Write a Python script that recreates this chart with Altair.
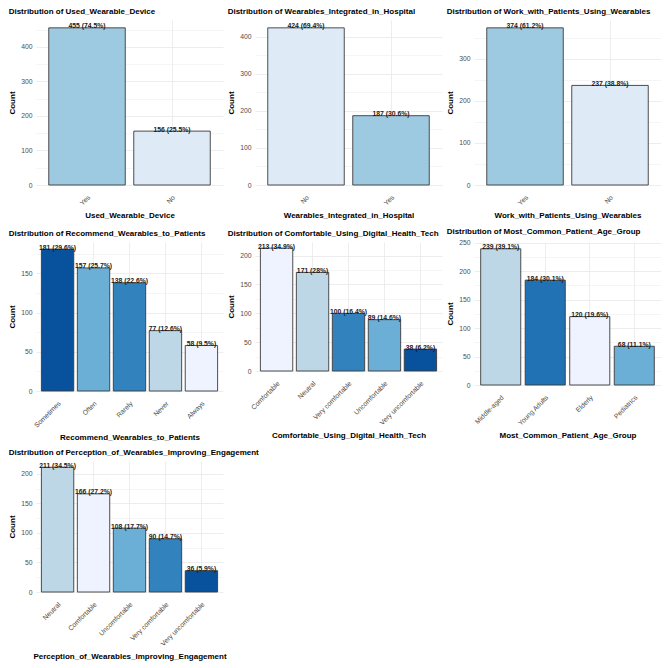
import altair as alt
import pandas as pd

TOTAL = 611

var_names = [
    "Used_Wearable_Device",
    "Wearables_Integrated_in_Hospital",
    "Work_with_Patients_Using_Wearables",
    "Recommend_Wearables_to_Patients",
    "Comfortable_Using_Digital_Health_Tech",
    "Most_Common_Patient_Age_Group",
    "Perception_of_Wearables_Improving_Engagement",
]

cat1 = ["Yes", "No"]
cnt1 = [455, 156]
cat2 = ["No", "Yes"]
cnt2 = [424, 187]
cat3 = ["Yes", "No"]
cnt3 = [374, 237]
cat4 = ["Sometimes", "Often", "Rarely", "Never", "Always"]
cnt4 = [181, 157, 138, 77, 58]
cat5 = ["Comfortable", "Neutral", "Very comfortable", "Uncomfortable", "Very uncomfortable"]
cnt5 = [213, 171, 100, 89, 38]
cat6 = ["Middle-aged", "Young Adults", "Elderly", "Pediatrics"]
cnt6 = [239, 184, 120, 68]
cat7 = ["Neutral", "Comfortable", "Uncomfortable", "Very comfortable", "Very uncomfortable"]
cnt7 = [211, 166, 108, 90, 36]

major_steps = [100, 100, 100, 50, 50, 50, 50]

# ColorBrewer "Blues" palettes (assigned to levels in alphabetical order)
BLUES = {
    2: ["#DEEBF7", "#9ECAE1"],
    4: ["#EFF3FF", "#BDD7E7", "#6BAED6", "#2171B5"],
    5: ["#EFF3FF", "#BDD7E7", "#6BAED6", "#3182BD", "#08519C"],
}

FONT = "Liberation Sans"
PW = 187
GRID = "#EBEBEB"


def fmt_label(c):
    pct = round(c * 100 / TOTAL, 1)
    return f"{c} ({pct:g}%)"


def panel(var, cats, cnts, height, major):
    df = pd.DataFrame({"cat": cats, "n": cnts, "label": [fmt_label(c) for c in cnts]})
    ymax = max(cnts) * 1.05
    minor = major // 2
    vals = [minor * i for i in range(int(ymax // minor) + 1)]
    x = alt.X(
        "cat:N",
        sort=cats,
        title=var,
        scale=alt.Scale(paddingInner=0.1, paddingOuter=0.15),
        axis=alt.Axis(
            labelAngle=315,
            labelAlign="right",
            labelBaseline="top",
            labelPadding=9,
            titlePadding=5,
            grid=True,
            gridColor=GRID,
            gridWidth=0.9,
            bandPosition=0.5,
        ),
    )
    y = alt.Y(
        "n:Q",
        title="Count",
        scale=alt.Scale(domain=[0, ymax], nice=False, zero=True),
        axis=alt.Axis(
            values=vals,
            labelExpr=f"datum.value % {major} === 0 ? datum.label : ''",
            labelPadding=4,
            titlePadding=4,
            grid=True,
            gridColor=GRID,
            gridWidth={"condition": {"test": f"datum.value % {major} === 0", "value": 0.9}, "value": 0.5},
        ),
    )
    base = alt.Chart(df).encode(x=x, y=y)
    bars = base.mark_bar(stroke="#3a3a3a", strokeWidth=0.9).encode(
        color=alt.Color(
            "cat:N",
            scale=alt.Scale(domain=sorted(cats), range=BLUES[len(cats)]),
            legend=None,
        )
    )
    text = base.mark_text(
        baseline="bottom", dy=1.5, fontSize=6.8, fontWeight="bold", font=FONT, color="#1a1a1a"
    ).encode(text="label:N")
    return alt.layer(bars, text).properties(
        width=PW,
        height=height,
        title=alt.TitleParams(
            "Distribution of " + var,
            anchor="start",
            fontSize=8,
            fontWeight="bold",
            font=FONT,
            color="#000000",
            offset=4,
        ),
    )


p1 = panel(var_names[0], cat1, cnt1, 165, major_steps[0])
p2 = panel(var_names[1], cat2, cnt2, 165, major_steps[1])
p3 = panel(var_names[2], cat3, cnt3, 165, major_steps[2])
p4 = panel(var_names[3], cat4, cnt4, 149, major_steps[3])
p5 = panel(var_names[4], cat5, cnt5, 129, major_steps[4])
p6 = panel(var_names[5], cat6, cnt6, 143, major_steps[5])
p7 = panel(var_names[6], cat7, cnt7, 131, major_steps[6])

row1 = alt.hconcat(p1, p2, p3, spacing=32, bounds="flush").resolve_scale(color="independent")
row2 = alt.hconcat(p4, p5, p6, spacing=32, bounds="flush").resolve_scale(color="independent")
row3 = alt.hconcat(p7, spacing=32, bounds="flush").resolve_scale(color="independent")

chart = (
    alt.vconcat(row1, row2, row3, spacing=7)
    .resolve_scale(color="independent")
    .properties(padding=0, background="#FFFFFF")
    .configure_view(strokeWidth=0)
    .configure_axis(
        domain=False,
        ticks=False,
        labelFont=FONT,
        labelFontSize=6.8,
        labelColor="#4D4D4D",
        titleFont=FONT,
        titleFontSize=8,
        titleFontWeight="bold",
        titleColor="#000000",
    )
)

chart.save("out.html", embed_options={"renderer": "svg", "actions": False})
